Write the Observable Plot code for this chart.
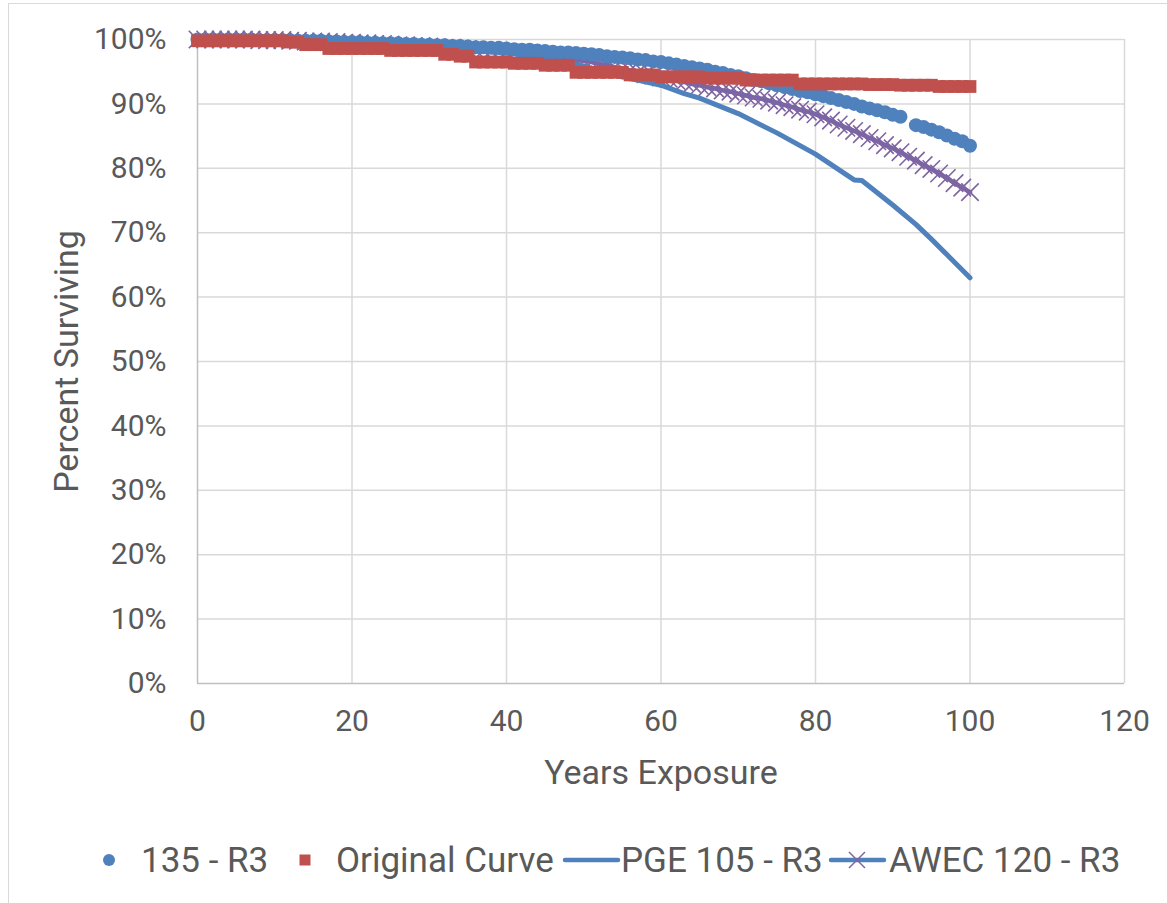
<!DOCTYPE html>
<html><head><meta charset="utf-8">
<script src="https://cdn.jsdelivr.net/npm/d3@7"></script>
<script src="https://cdn.jsdelivr.net/npm/@observablehq/plot@0.6"></script>
<style>
body{margin:0;background:#fff;width:1167px;height:903px;overflow:hidden;position:relative;font-family:"Roboto","Liberation Sans",sans-serif;}
#frame{position:absolute;left:8px;top:3px;width:1200px;height:960px;border:1px solid #d9d9d9;box-sizing:border-box;}
#chart{position:absolute;left:0;top:0;}
#legend{position:absolute;left:0;top:830px;width:1167px;height:60px;color:#595959;font-size:35px;}
.item{position:absolute;top:0;height:60px;display:flex;align-items:center;white-space:nowrap;}
.item svg{display:block;}
</style></head><body>
<div id="frame"></div><div id="chart"></div><div id="legend"></div>
<script>
const FONT = '"Roboto","Liberation Sans",sans-serif';
const TEXT = "#595959";

const years = [0,1,2,3,4,5,6,7,8,9,10,11,12,13,14,15,16,17,18,19,20,21,22,23,24,25,26,27,28,29,30,31,32,33,34,35,36,37,38,39,40,41,42,43,44,45,46,47,48,49,50,51,52,53,54,55,56,57,58,59,60,61,62,63,64,65,66,67,68,69,70,71,72,73,74,75,76,77,78,79,80,81,82,83,84,85,86,87,88,89,90,91,92,93,94,95,96,97,98,99,100];

const s135 = [100,100,100,100,100,100,100,100,99.9,99.9,99.9,99.9,99.9,99.8,99.8,99.8,99.8,99.7,99.7,99.6,99.6,
  99.6,99.5,99.5,99.4,99.4,99.4,99.3,99.3,99.2,99.2,99.1,99.1,99.0,99.0,98.9,98.8,98.8,98.7,98.7,98.6,
  98.5,98.4,98.4,98.3,98.2,98.1,98.0,98.0,97.9,97.8,97.7,97.6,97.4,97.3,97.2,97.1,96.9,96.8,96.6,96.5,
  96.3,96.1,95.9,95.7,95.5,95.3,95.0,94.8,94.5,94.3,94.0,93.7,93.5,93.2,92.9,92.6,92.3,92.0,91.8,91.5,
  91.2,90.9,90.6,90.3,90.0,89.6,89.3,89.0,88.7,88.3,88.0,null,86.7,86.4,86.0,85.6,85.1,84.6,84.2,83.5];

const original = [99.8,99.8,99.8,99.8,99.8,99.8,99.8,99.8,99.8,99.8,99.8,99.8,99.6,99.6,99.2,99.2,99.2,
  98.6,98.6,98.6,98.6,98.6,98.6,98.6,98.6,98.3,98.3,98.3,98.3,98.3,98.3,98.3,97.7,97.7,97.4,97.4,
  96.5,96.5,96.5,96.5,96.5,96.3,96.3,96.3,96.3,96.0,96.0,96.0,96.0,94.9,94.9,94.9,94.9,94.9,94.9,94.9,
  94.5,94.5,94.5,94.5,94.2,94.2,94.2,94.2,94.2,94.2,94.0,94.0,94.0,94.0,94.0,93.7,93.7,93.7,93.7,93.7,93.7,93.7,
  93.1,93.1,93.1,93.1,93.1,93.1,93.1,93.1,93.1,93.0,93.0,93.0,93.0,92.9,92.9,92.9,92.9,92.9,92.7,92.7,92.7,92.7,92.7];

const awec = [100,100,100,100,100,100,100,100,99.9,99.9,99.9,99.9,99.8,99.8,99.7,99.7,99.7,99.6,99.6,99.5,99.5,
  99.4,99.4,99.3,99.3,99.2,99.1,99.1,99.0,99.0,98.9,98.8,98.7,98.7,98.6,98.5,98.4,98.3,98.2,98.1,98.0,
  97.9,97.8,97.6,97.5,97.4,97.3,97.1,97.0,96.8,96.7,96.5,96.2,96.0,95.7,95.5,95.2,94.9,94.6,94.4,94.1,
  93.9,93.6,93.4,93.1,92.9,92.6,92.4,92.1,91.9,91.6,91.3,91.0,90.8,90.5,90.2,89.8,89.5,89.1,88.8,88.4,
  87.9,87.4,86.8,86.3,85.8,85.3,84.7,84.2,83.6,83.1,82.5,81.8,81.2,80.5,79.9,79.2,78.5,77.7,77.0,76.3];

const pgeYears = [0,10,20,30,40,45,50,55,60,63,65,70,75,80,85,86,90,93,95,97,100];
const pgeVals  = [100,99.9,99.5,98.9,97.9,97.1,95.9,94.2,92.9,91.6,90.9,88.5,85.5,82.2,78.2,78.1,74.3,71.3,69.0,66.6,63.0];

const xTicks = [0,20,40,60,80,100,120];
const yTicks = [0,10,20,30,40,50,60,70,80,90,100];
const seriesNames = ["135 - R3","Original Curve","PGE 105 - R3","AWEC 120 - R3"];
const colors = {blue:"#4F81BD", red:"#C0504D", purple:"#8064A2"};

const d135 = years.map((x,i)=>({x, y:s135[i]})).filter(d=>d.y!=null);
const dOrig = years.map((x,i)=>({x, y:original[i]}));
const dAwec = years.map((x,i)=>({x, y:awec[i]}));
const dPge = pgeYears.map((x,i)=>({x, y:pgeVals[i]}));

const chart = Plot.plot({
  width:1167, height:820,
  marginLeft:197, marginRight:43, marginTop:39, marginBottom:137,
  style:{fontFamily:FONT, fontSize:"30px", color:TEXT, background:"transparent", overflow:"visible"},
  x:{domain:[0,120], ticks:xTicks, tickSize:0, tickPadding:26, label:null},
  y:{domain:[0,100], ticks:yTicks, tickSize:0, tickPadding:31, tickFormat:d=>d+"%", label:null},
  marks:[
    Plot.ruleX(xTicks.filter(d=>d>0), {stroke:"#d9d9d9", strokeWidth:1.5}),
    Plot.ruleY(yTicks.filter(d=>d>0), {stroke:"#d9d9d9", strokeWidth:1.5}),
    Plot.ruleX([0], {stroke:"#bfbfbf", strokeWidth:1.5}),
    Plot.ruleY([0], {stroke:"#bfbfbf", strokeWidth:1.5}),
    Plot.line(dAwec, {x:"x", y:"y", stroke:"#7268ab", strokeWidth:4.5, strokeLinejoin:"round", strokeLinecap:"round"}),
    Plot.dot(dAwec, {x:"x", y:"y", r:8, symbol:"times", stroke:colors.purple, strokeWidth:1.6}),
    Plot.line(dPge, {x:"x", y:"y", stroke:colors.blue, strokeWidth:5, strokeLinejoin:"round", strokeLinecap:"round"}),
    Plot.dot(d135, {x:"x", y:"y", r:7, fill:colors.blue}),
    Plot.dot(dOrig, {x:"x", y:"y", r:7.2, symbol:"square", fill:colors.red}),
    Plot.text(["Years Exposure"], {text:d=>d, frameAnchor:"bottom", dy:90, fontSize:34, fill:TEXT, textAnchor:"middle", lineAnchor:"middle"}),
    Plot.text(["Percent Surviving"], {text:d=>d, frameAnchor:"left", dx:-130, rotate:-90, fontSize:34, fill:TEXT, textAnchor:"middle", lineAnchor:"middle"})
  ]
});
document.getElementById("chart").appendChild(chart);

// Legend
const legend = document.getElementById("legend");
const swatches = [
  {left:101, svg:`<svg width="16" height="16"><circle cx="8" cy="8" r="6" fill="${colors.blue}"/></svg>`, gap:24},
  {left:298, svg:`<svg width="14" height="14"><rect x="1.5" y="1.5" width="11" height="11" fill="${colors.red}"/></svg>`, gap:24},
  {left:561, svg:`<svg width="60" height="10"><line x1="4" y1="5" x2="57" y2="5" stroke="${colors.blue}" stroke-width="4.5" stroke-linecap="round"/></svg>`, gap:0},
  {left:827, svg:`<svg width="62" height="22"><line x1="4" y1="11" x2="57" y2="11" stroke="${colors.blue}" stroke-width="4.5" stroke-linecap="round"/><path d="M22,3L38,19M22,19L38,3" stroke="${colors.purple}" stroke-width="1.5"/></svg>`, gap:0}
];
seriesNames.forEach((name,i)=>{
  const s = swatches[i];
  const el = document.createElement("div");
  el.className = "item";
  el.style.left = s.left + "px";
  el.innerHTML = s.svg + `<span style="margin-left:${s.gap}px">${name}</span>`;
  legend.appendChild(el);
});
</script></body></html>
